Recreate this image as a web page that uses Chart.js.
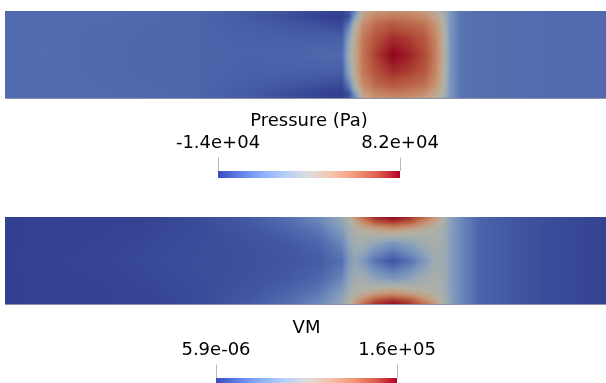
<!DOCTYPE html>
<html>
<head>
<meta charset="utf-8">
<script src="https://cdn.jsdelivr.net/npm/chart.js@4"></script>
<style>
  html, body { margin: 0; padding: 0; background: #fff; overflow: hidden; }
  body { width: 606px; height: 383px; position: relative; }
  canvas { position: absolute; left: 0; }
</style>
</head>
<body>
<canvas id="bar1" width="606" height="200" style="top:100px"></canvas>
<canvas id="field1" width="606" height="110" style="top:0px"></canvas>
<canvas id="bar2" width="606" height="200" style="top:307px"></canvas>
<canvas id="field2" width="606" height="110" style="top:206px"></canvas>
<script>
// grid node positions along the channel (0 = left end) and across it (0 = top wall, 1 = bottom wall)
const gridX = [0, 45, 95, 145, 195, 245, 285, 315, 337, 344, 350, 358, 370, 388, 405, 420, 430, 438, 445, 455, 475, 515, 555, 601];
const gridY = [0, 0.06, 0.15, 0.3, 0.5, 0.7, 0.85, 0.94, 1];

// pressure (Pa), one profile per gridX entry, top wall -> bottom wall
const pressure = [
  [-1000, -1000, -1000, -1000, -1000, -1000, -1000, -1000, -1000],
  [-1000, -1000, -1000, -900, -800, -900, -1000, -1000, -1000],
  [-1000, -1200, -1500, -1800, -2000, -1800, -1500, -1200, -1000],
  [-1500, -1800, -2200, -2500, -2500, -2500, -2200, -1800, -1500],
  [-2500, -3000, -3000, -3000, -3000, -3000, -3000, -3000, -2500],
  [-5000, -6000, -5000, -4000, -3500, -4000, -5000, -6000, -5000],
  [-8000, -9500, -7000, -4500, -3000, -4500, -7000, -9500, -8000],
  [-11000, -12500, -9000, -4500, -2500, -4500, -9000, -12500, -11000],
  [-12000, -14000, -11000, -5000, -1500, -5000, -11000, -14000, -12000],
  [-6000, -9000, 4000, 20000, 26000, 20000, 4000, -9000, -6000],
  [6000, 16000, 32000, 40000, 42000, 40000, 32000, 16000, 6000],
  [40000, 44000, 52000, 58000, 60000, 58000, 52000, 44000, 40000],
  [48000, 54000, 62000, 68000, 72000, 68000, 62000, 54000, 48000],
  [53000, 58000, 67000, 75000, 82000, 75000, 67000, 58000, 53000],
  [50000, 56000, 64000, 72000, 77000, 72000, 64000, 56000, 50000],
  [45000, 51000, 60000, 67000, 70000, 67000, 60000, 51000, 45000],
  [38000, 42000, 50000, 55000, 58000, 55000, 50000, 42000, 38000],
  [30000, 32000, 36000, 39000, 40000, 39000, 36000, 32000, 30000],
  [14800, 14800, 14800, 14800, 14800, 14800, 14800, 14800, 14800],
  [2000, 2000, 2000, 2000, 2000, 2000, 2000, 2000, 2000],
  [0, 0, 0, 0, 0, 0, 0, 0, 0],
  [-500, -500, -500, -500, -500, -500, -500, -500, -500],
  [-1000, -1000, -1000, -1000, -1000, -1000, -1000, -1000, -1000],
  [-1000, -1000, -1000, -1000, -1000, -1000, -1000, -1000, -1000]
];

// von Mises stress, same grid
const vonMises = [
  [1500, 1500, 1500, 1500, 1500, 1500, 1500, 1500, 1500],
  [2000, 2000, 2000, 2000, 2500, 2000, 2000, 2000, 2000],
  [2500, 2500, 2500, 3000, 3500, 3000, 2500, 2500, 2500],
  [3500, 3500, 4000, 5000, 6000, 5000, 4000, 3500, 3500],
  [7000, 7000, 7000, 7500, 8000, 7500, 7000, 7000, 7000],
  [14000, 13000, 11000, 9500, 9000, 9500, 11000, 13000, 14000],
  [24000, 22000, 18000, 13000, 11000, 13000, 18000, 22000, 24000],
  [40000, 36000, 28000, 19000, 14000, 19000, 28000, 36000, 40000],
  [62000, 58000, 50000, 36000, 24000, 36000, 50000, 58000, 62000],
  [80000, 75000, 68000, 58000, 46000, 58000, 68000, 75000, 80000],
  [105000, 90000, 77000, 70000, 58000, 70000, 77000, 90000, 105000],
  [130000, 110000, 82000, 70000, 48000, 70000, 82000, 110000, 130000],
  [150000, 135000, 90000, 58000, 25000, 58000, 90000, 135000, 150000],
  [160000, 145000, 100000, 45000, 10000, 45000, 100000, 145000, 160000],
  [150000, 135000, 90000, 56000, 25000, 56000, 90000, 135000, 150000],
  [128000, 108000, 82000, 70000, 48000, 70000, 82000, 108000, 128000],
  [105000, 92000, 78000, 74000, 68000, 74000, 78000, 92000, 105000],
  [80000, 76000, 72000, 70000, 68000, 70000, 72000, 76000, 80000],
  [58000, 56000, 55000, 55000, 55000, 55000, 55000, 56000, 58000],
  [38000, 38000, 38000, 38000, 38000, 38000, 38000, 38000, 38000],
  [18000, 18000, 18000, 18000, 18000, 18000, 18000, 18000, 18000],
  [11000, 11000, 11000, 11000, 11000, 11000, 11000, 11000, 11000],
  [6000, 6000, 6000, 6000, 6000, 6000, 6000, 6000, 6000],
  [3000, 3000, 3000, 3000, 3000, 3000, 3000, 3000, 3000]
];

const pressureRange = [-14000, 82000];
const pressureTickLabels = ['-1.4e+04', '8.2e+04'];
const vmRange = [5.9e-6, 1.6e5];
const vmTickLabels = ['5.9e-06', '1.6e+05'];

// cool to warm
const cmapPos = [0, 0.125, 0.25, 0.375, 0.5, 0.625, 0.75, 0.875, 1];
const cmapRGB = [
  [59, 76, 192], [98, 130, 234], [141, 176, 254], [184, 208, 249], [221, 221, 221],
  [245, 196, 173], [244, 154, 123], [222, 96, 77], [180, 4, 38]
];
const FONT = 'DejaVu Sans';
const SHADE = [0.8, 0.8, 0.74];
const BAR_H = 7;

function colorAt(t) {
  t = Math.min(1, Math.max(0, t));
  let k = 0;
  while (k < cmapPos.length - 2 && t > cmapPos[k + 1]) k++;
  const f = (t - cmapPos[k]) / (cmapPos[k + 1] - cmapPos[k]);
  return cmapRGB[k].map((c, i) => c + (cmapRGB[k + 1][i] - c) * f);
}

function findCell(nodes, p) {
  let k = 0;
  while (k < nodes.length - 2 && nodes[k + 1] < p) k++;
  const f = (p - nodes[k]) / (nodes[k + 1] - nodes[k]);
  return [k, Math.min(1, Math.max(0, f))];
}

const heatmap = {
  id: 'heatmap',
  beforeDatasetsDraw(chart, args, opts) {
    const { ctx, chartArea: a, scales: { x, y } } = chart;
    const w = Math.round(a.right - a.left);
    const h = Math.round(a.bottom - a.top);
    const off = document.createElement('canvas');
    off.width = w;
    off.height = h;
    const octx = off.getContext('2d');
    const img = octx.createImageData(w, h);
    const px = gridX.map((v) => x.getPixelForValue(v) - a.left);
    const py = gridY.map((v) => y.getPixelForValue(v) - a.top);
    const cols = opts.values;
    const [lo, hi] = opts.range;
    for (let j = 0; j < h; j++) {
      const [r, fy] = findCell(py, j + 0.5);
      for (let i = 0; i < w; i++) {
        const [c, fx] = findCell(px, i + 0.5);
        const v =
          (1 - fx) * (1 - fy) * cols[c][r] + fx * (1 - fy) * cols[c + 1][r] +
          (1 - fx) * fy * cols[c][r + 1] + fx * fy * cols[c + 1][r + 1];
        const rgb = colorAt((v - lo) / (hi - lo));
        const o = (j * w + i) * 4;
        img.data[o] = rgb[0] * SHADE[0];
        img.data[o + 1] = rgb[1] * SHADE[1];
        img.data[o + 2] = rgb[2] * SHADE[2];
        img.data[o + 3] = 255;
      }
    }
    octx.putImageData(img, 0, 0);
    ctx.drawImage(off, a.left, a.top);
    ctx.fillStyle = '#8d92a8';
    ctx.fillRect(a.left, a.bottom - 1, w, 1);
  }
};

const colorbar = {
  id: 'colorbar',
  beforeDatasetsDraw(chart) {
    const { ctx, chartArea: a, scales: { x } } = chart;
    const x0 = x.getPixelForValue(x.min);
    const x1 = x.getPixelForValue(x.max);
    const g = ctx.createLinearGradient(x0, 0, x1, 0);
    cmapPos.forEach((p, i) => g.addColorStop(p, `rgb(${cmapRGB[i].join(',')})`));
    ctx.fillStyle = g;
    ctx.fillRect(x0, Math.round(a.top), x1 - x0, BAR_H);
  }
};

function makeField(id, values, range) {
  return new Chart(document.getElementById(id), {
    type: 'scatter',
    data: { datasets: [] },
    options: {
      responsive: false,
      animation: false,
      devicePixelRatio: 1,
      layout: { padding: { left: 5, top: 11, right: 0, bottom: 11 } },
      plugins: {
        legend: { display: false },
        tooltip: { enabled: false },
        heatmap: { values, range }
      },
      scales: {
        x: { type: 'linear', min: gridX[0], max: gridX[gridX.length - 1], display: false },
        y: { type: 'linear', min: 0, max: 1, reverse: true, display: false }
      }
    },
    plugins: [heatmap]
  });
}

function makeBar(id, range, tickLabels, title, padLeft, padRight) {
  return new Chart(document.getElementById(id), {
    type: 'scatter',
    data: { datasets: [] },
    options: {
      responsive: false,
      animation: false,
      devicePixelRatio: 1,
      layout: { padding: { left: padLeft, right: padRight, top: 12, bottom: 0 } },
      plugins: { legend: { display: false }, tooltip: { enabled: false } },
      scales: {
        x: {
          type: 'linear',
          position: 'top',
          min: range[0],
          max: range[1],
          afterBuildTicks(scale) {
            scale.ticks = range.map((v) => ({ value: v }));
          },
          ticks: {
            callback: (v, i) => tickLabels[i],
            font: { family: FONT, size: 18 },
            color: '#000',
            padding: 3,
            maxRotation: 0,
            autoSkip: false
          },
          grid: { display: true, drawOnChartArea: false, drawTicks: true, tickLength: 13, color: '#b8b8b8' },
          border: { display: false },
          title: {
            display: true,
            text: title,
            font: { family: FONT, size: 18, lineHeight: 1 },
            color: '#000',
            padding: { top: 0, bottom: 0 }
          }
        },
        y: { min: 0, max: 1, display: false }
      }
    },
    plugins: [colorbar]
  });
}

makeBar('bar1', pressureRange, pressureTickLabels, 'Pressure (Pa)', 218, 206);
makeField('field1', pressure, pressureRange);
makeBar('bar2', vmRange, vmTickLabels, 'VM', 216, 209);
makeField('field2', vonMises, vmRange);
</script>
</body>
</html>
